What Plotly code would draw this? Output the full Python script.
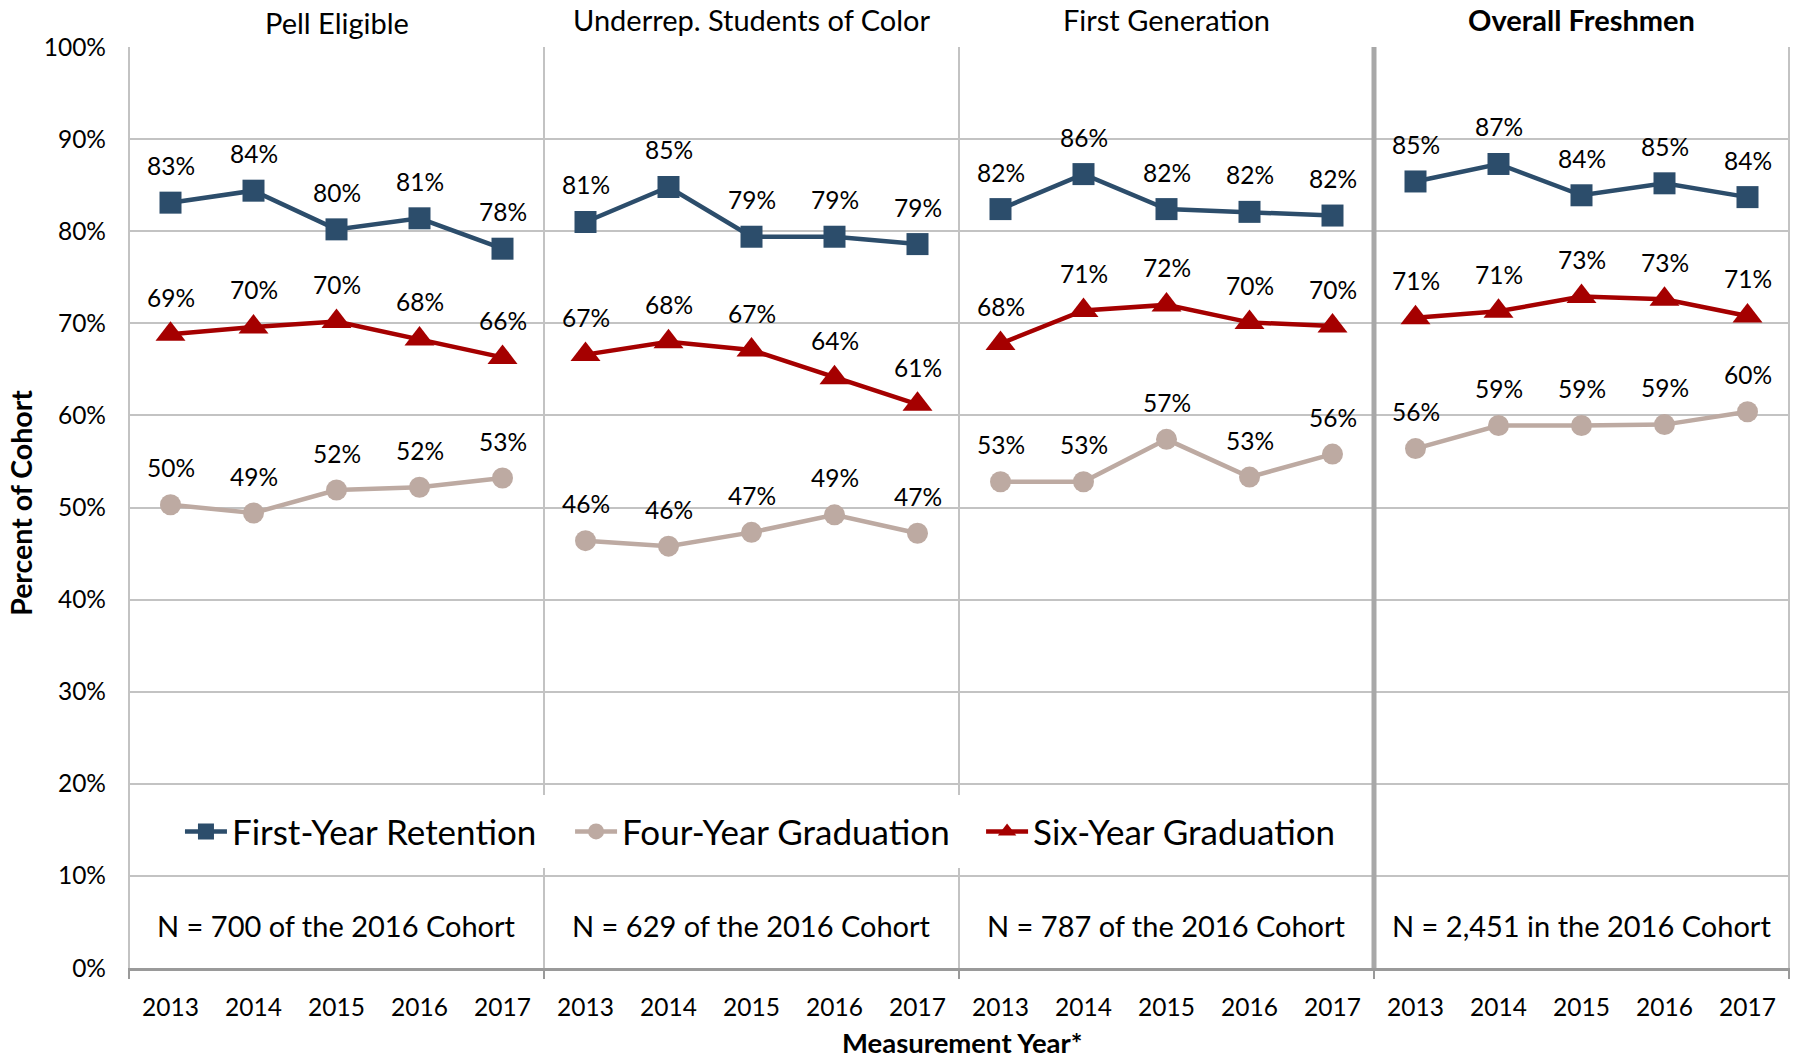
import plotly.graph_objects as go
from plotly.subplots import make_subplots

years = ["2013", "2014", "2015", "2016", "2017"]
panels = ["Pell Eligible", "Underrep. Students of Color", "First Generation", "Overall Freshmen"]
n_notes = ["N = 700 of the 2016 Cohort", "N = 629 of the 2016 Cohort",
           "N = 787 of the 2016 Cohort", "N = 2,451 in the 2016 Cohort"]

retention_pell = [83.1, 84.4, 80.2, 81.4, 78.1]
retention_urm = [81.0, 84.8, 79.4, 79.4, 78.6]
retention_fg = [82.4, 86.2, 82.4, 82.1, 81.7]
retention_all = [85.4, 87.3, 83.9, 85.2, 83.7]

four_pell = [50.3, 49.4, 51.9, 52.2, 53.2]
four_urm = [46.4, 45.8, 47.3, 49.2, 47.2]
four_fg = [52.8, 52.8, 57.4, 53.3, 55.8]
four_all = [56.4, 58.9, 58.9, 59.0, 60.4]

six_pell = [68.8, 69.6, 70.2, 68.3, 66.3]
six_urm = [66.6, 68.0, 67.1, 64.1, 61.2]
six_fg = [67.8, 71.4, 72.0, 70.1, 69.7]
six_all = [70.6, 71.3, 72.9, 72.6, 70.8]

series_names = ["First-Year Retention", "Four-Year Graduation", "Six-Year Graduation"]
series_data = [
    [retention_pell, retention_urm, retention_fg, retention_all],
    [four_pell, four_urm, four_fg, four_all],
    [six_pell, six_urm, six_fg, six_all],
]
colors = ["#2C4D6B", "#BDAAA2", "#A50000"]
symbols = ["square", "circle", "triangle-up"]
msizes = [22, 21, 26]
legend_ids = ["legend", "legend2", "legend3"]
legend_x = [0.0307, 0.2657, 0.5133]
title_offsets = [24.5, 27.5, 27.5, 27.5]  # px above plot area top

FONT = "Lato"
GRID = "#C3C3C3"
AXIS = "#9A9A9A"

fig = make_subplots(rows=1, cols=4, shared_yaxes=True, horizontal_spacing=0)
xs = list(range(len(years)))


def xr(p):
    return f"x{p+1}" if p else "x"


def yr(p):
    return f"y{p+1}" if p else "y"


for s, name in enumerate(series_names):
    for p in range(4):
        vals = series_data[s][p]
        fig.add_trace(go.Scatter(
            x=xs, y=vals, mode="lines+markers", name=name,
            legend=legend_ids[s], showlegend=(p == 0),
            line=dict(color=colors[s], width=4.5),
            marker=dict(symbol=symbols[s], size=msizes[s], color=colors[s]),
            hoverinfo="skip"), row=1, col=p + 1)
        for j, v in enumerate(vals):
            fig.add_annotation(x=xs[j], y=v, xref=xr(p), yref=yr(p),
                               text=f"{v:.0f}%", showarrow=False, yshift=37,
                               font=dict(family=FONT, size=24.5, color="#000"))

for p in range(4):
    fig.update_xaxes(row=1, col=p + 1, range=[-0.5, 4.5], tickvals=xs, ticktext=years,
                     showgrid=False, zeroline=False, showline=True, linecolor=AXIS,
                     linewidth=3, ticks="", ticklabelstandoff=16,
                     tickfont=dict(family=FONT, size=24.5, color="#000"))
    fig.update_yaxes(row=1, col=p + 1, range=[0, 100], dtick=10, ticksuffix="%",
                     showgrid=True, gridcolor=GRID, gridwidth=2, zeroline=False,
                     showline=False, ticks="", ticklabelstandoff=22,
                     tickfont=dict(family=FONT, size=24.5, color="#000"))
    # panel title
    fig.add_annotation(x=0.5, y=1.0 + title_offsets[p] / 921,
                       xref=f"{xr(p)} domain", yref="paper",
                       text=f"<b>{panels[p]}</b>" if p == 3 else panels[p],
                       showarrow=False, yanchor="middle",
                       font=dict(family=FONT, size=29, color="#000"))
    # N note
    fig.add_annotation(x=0.5, y=4.6, xref=f"{xr(p)} domain", yref=yr(p),
                       text=n_notes[p], showarrow=False, yanchor="middle",
                       font=dict(family=FONT, size=29, color="#000"))

# panel borders / separators (thin ones interrupted behind the legend)
gap_lo, gap_hi = 0.1086, 0.1878
for p in range(4):
    xref = f"{xr(p)} domain"
    if p in (1, 2):
        for y0, y1 in ((0, gap_lo), (gap_hi, 1)):
            fig.add_shape(type="line", xref=xref, yref="paper", x0=0, x1=0, y0=y0, y1=y1,
                          line=dict(color=GRID, width=2), layer="above")
    elif p == 3:
        fig.add_shape(type="line", xref=xref, yref="paper", x0=0, x1=0, y0=0, y1=1,
                      line=dict(color="#A8A8A8", width=5), layer="above")
    else:
        fig.add_shape(type="line", xref=xref, yref="paper", x0=0, x1=0, y0=0, y1=1,
                      line=dict(color=GRID, width=2), layer="above")
    fig.add_shape(type="line", xref=xref, yref="paper", x0=0, x1=0, y0=-0.012, y1=0,
                  line=dict(color=AXIS, width=2), layer="above")
fig.add_shape(type="line", xref="x4 domain", yref="paper", x0=1, x1=1, y0=0, y1=1,
              line=dict(color=GRID, width=2), layer="above")
fig.add_shape(type="line", xref="x4 domain", yref="paper", x0=1, x1=1, y0=-0.012, y1=0,
              line=dict(color=AXIS, width=2), layer="above")

fig.add_annotation(x=-0.0651, y=0.505, xref="paper", yref="paper", text="<b>Percent of Cohort</b>",
                   textangle=-90, showarrow=False, xanchor="center", yanchor="middle",
                   font=dict(family=FONT, size=28.5, color="#000"))
fig.add_annotation(x=0.5017, y=-0.0814, xref="paper", yref="paper", text="<b>Measurement Year*</b>",
                   showarrow=False, xanchor="center", yanchor="middle",
                   font=dict(family=FONT, size=27.5, color="#000"))

legend_common = dict(orientation="h", y=0.148, xanchor="left", yanchor="middle",
                     bgcolor="rgba(0,0,0,0)", font=dict(family=FONT, size=35, color="#000"),
                     itemwidth=42)
fig.update_layout(
    width=1796, height=1059,
    margin=dict(l=129, r=7, t=47, b=91),
    paper_bgcolor="white", plot_bgcolor="white",
    font=dict(family=FONT, color="#000"),
    legend=dict(x=legend_x[0], **legend_common),
    legend2=dict(x=legend_x[1], **legend_common),
    legend3=dict(x=legend_x[2], **legend_common),
    showlegend=True,
)

fig.write_html("out.html", config={"displayModeBar": False},
               post_script="document.body.style.margin='0px';")
